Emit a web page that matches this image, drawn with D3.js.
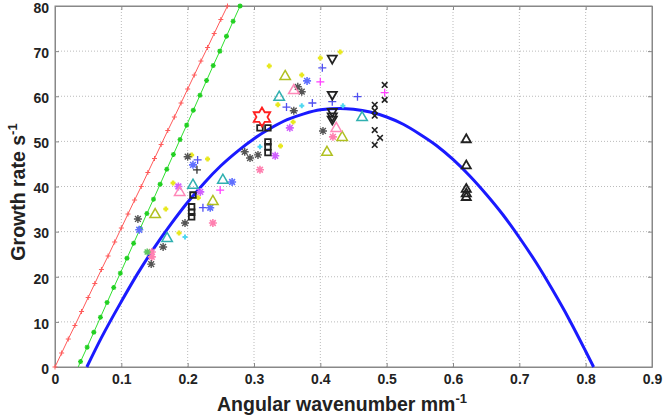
<!DOCTYPE html>
<html><head><meta charset="utf-8">
<script src="https://cdn.jsdelivr.net/npm/d3@7"></script>
<style>body{margin:0;background:#fff}svg{display:block}</style>
</head><body>
<svg id="c" width="667" height="417"></svg>
<script>
// ---- data ----
const xTicks = [0,0.1,0.2,0.3,0.4,0.5,0.6,0.7,0.8,0.9];
const yTicks = [0,10,20,30,40,50,60,70,80];
const xTickLabels = ["0","0.1","0.2","0.3","0.4","0.5","0.6","0.7","0.8","0.9"];
const yTickLabels = ["0","10","20","30","40","50","60","70","80"];

// fitted curve (blue)
const curveX = [0.048,0.07,0.10,0.125,0.15,0.175,0.20,0.225,0.25,0.275,0.30,0.325,0.35,0.375,0.40,0.43,0.45,0.475,0.50,0.525,0.55,0.575,0.60,0.625,0.65,0.675,0.70,0.725,0.75,0.775,0.80,0.812];
const curveY = [0,6.5,14.5,20.8,26.5,31.7,36.5,40.8,44.6,47.8,50.6,52.9,54.8,56.1,57.0,57.3,57.1,56.5,55.4,53.8,51.6,49.1,46.0,42.4,38.3,33.8,28.7,23.2,17.1,10.6,3.5,0];

// red line with + markers
const redX = [0,0.01,0.02,0.03,0.04,0.05,0.06,0.07,0.08,0.09,0.10,0.11,0.12,0.13,0.14,0.15,0.16,0.17,0.18,0.19,0.20,0.21,0.22,0.23,0.24,0.25,0.26];
const redY = [0,3.1,6.2,9.2,12.3,15.4,18.5,21.6,24.6,27.7,30.8,33.9,37.0,40.0,43.1,46.2,49.3,52.4,55.4,58.5,61.6,64.7,67.8,70.8,73.9,77.0,80.0];

// green line with * markers
const greenX = [0.035,0.0385,0.0485,0.0585,0.0685,0.0785,0.0885,0.0985,0.1085,0.1185,0.1285,0.1385,0.1485,0.1585,0.1685,0.1785,0.1885,0.1985,0.2085,0.2185,0.2285,0.2385,0.2485,0.2585,0.2685,0.279];
const greenY = [0,1.2,4.4,7.7,11.0,14.3,17.6,20.8,24.1,27.4,30.7,34.0,37.2,40.5,43.8,47.1,50.4,53.6,56.9,60.2,63.5,66.8,70.0,73.3,76.6,80.0];

// scatter series
const blackTriX = [0.62,0.62,0.62,0.62,0.62];
const blackTriY = [50.5,44.7,39.5,38.5,37.7];
const blackXX = [0.482,0.482,0.482,0.482,0.49,0.482,0.497,0.497];
const blackXY = [58.1,56.8,55.7,52.5,50.8,49.2,62.5,59.2];
const blackDownX = [0.418,0.418,0.418,0.418,0.418];
const blackDownY = [68.3,60.3,56.5,55.5,54.8];
const blackSqX = [0.309,0.321,0.321,0.321,0.321,0.208,0.206,0.206,0.206];
const blackSqY = [53,53,49.9,48.8,47.5,38.1,35.5,34.3,33.3];
const starX = [0.312];
const starY = [55.4];
const oliveTriX = [0.347,0.433,0.41,0.238,0.151];
const oliveTriY = [64.5,51,47.7,36.8,33.9];
const cyanTriX = [0.338,0.463,0.253,0.208,0.169];
const cyanTriY = [59.9,55.4,41.5,40.4,28.6];
const pinkTriX = [0.36,0.424,0.188];
const pinkTriY = [61.4,53,38.8];
const yellowX = [0.43,0.40,0.323,0.372,0.336,0.359,0.34,0.206,0.23,0.216,0.167,0.187,0.178];
const yellowY = [69.8,68.5,66.7,64.7,58.1,54.3,49,47,46.1,37.5,35,29.7,40.8];
const grayAstX = [0.366,0.372,0.36,0.404,0.306,0.294,0.286,0.20,0.196,0.163,0.145,0.125];
const grayAstY = [62.1,61,56.8,52.3,47,46.3,47.7,46.6,31.9,26.6,22.8,32.8];
const blueAstX = [0.38,0.267,0.208,0.234,0.127];
const blueAstY = [63.4,41,44.8,35.3,30.4];
const bluePlusX = [0.403,0.388,0.456,0.349,0.418,0.215,0.223];
const bluePlusY = [66.3,58.5,59.9,57.6,58.8,45.9,35.3];
const magPlusX = [0.40,0.249,0.497];
const magPlusY = [63.2,39.2,60.8];
const magAstX = [0.354,0.332,0.219,0.186];
const magAstY = [53,46.8,38.8,40];
const pinkAstX = [0.419,0.309,0.238,0.146,0.146];
const pinkAstY = [51,43.7,31.9,25.5,24.4];
const cyanSmX = [0.372,0.434,0.309,0.196];
const cyanSmY = [57.9,57.9,48.8,28.8];
const greenAstX = [0.139];
const greenAstY = [25.5];
const grayPlusX = [0.214];
const grayPlusY = [43.7];

// ---- drawing ----
const svg = d3.select("#c");
const L=55,R=652,T=6,B=367;
const FONT="Liberation Sans, Arial, Helvetica, sans-serif";
const x = d3.scaleLinear().domain([0,0.9]).range([L,R]);
const y = d3.scaleLinear().domain([0,80]).range([B,T]);

// grid
const g = svg.append("g");
g.selectAll(".gx").data(xTicks.slice(1,-1)).join("line")
  .attr("x1",d=>x(d)).attr("x2",d=>x(d)).attr("y1",T).attr("y2",B)
  .attr("stroke","#bbb").attr("stroke-width",1).attr("stroke-dasharray","1,2");
g.selectAll(".gy").data(yTicks.slice(1,-1)).join("line")
  .attr("y1",d=>y(d)).attr("y2",d=>y(d)).attr("x1",L).attr("x2",R)
  .attr("stroke","#bbb").attr("stroke-width",1).attr("stroke-dasharray","1,2");

// axes
const fmtX = (d,i)=>xTickLabels[i], fmtY=(d,i)=>yTickLabels[i];
svg.append("g").attr("transform",`translate(0,${B})`)
  .call(d3.axisBottom(x).tickValues(xTicks).tickFormat(fmtX).tickSizeInner(-4).tickSizeOuter(0).tickPadding(7));
const ay = svg.append("g").attr("transform",`translate(${L},0)`)
  .call(d3.axisLeft(y).tickValues(yTicks).tickFormat(fmtY).tickSizeInner(-4).tickSizeOuter(0).tickPadding(6));
ay.selectAll(".tick text").attr("dy","0.45em");
svg.append("g").attr("transform",`translate(0,${T})`)
  .call(d3.axisTop(x).tickValues(xTicks).tickFormat("").tickSizeInner(-4).tickSizeOuter(0));
svg.append("g").attr("transform",`translate(${R},0)`)
  .call(d3.axisRight(y).tickValues(yTicks).tickFormat("").tickSizeInner(-4).tickSizeOuter(0));
svg.selectAll(".domain").attr("stroke","#888");
svg.selectAll(".tick line").attr("stroke","#888");
svg.selectAll(".tick text").attr("font-family",FONT)
  .attr("font-weight","bold").attr("font-size","14px").attr("fill","#222");
svg.append("rect").attr("x",L).attr("y",T).attr("width",R-L).attr("height",B-T)
  .attr("fill","none").attr("stroke","#888").attr("stroke-width",1);

// titles
const xt = svg.append("text").attr("x",342).attr("y",411).attr("text-anchor","middle")
  .attr("font-family",FONT).attr("font-weight","bold")
  .attr("font-size","19.5px").attr("fill","#222");
xt.append("tspan").text("Angular wavenumber mm");
xt.append("tspan").attr("dy",-8).attr("font-size","13px").text("-1");
const yt = svg.append("text").attr("transform","translate(25,192) rotate(-90)").attr("text-anchor","middle")
  .attr("font-family",FONT).attr("font-weight","bold")
  .attr("font-size","19.5px").attr("fill","#222");
yt.append("tspan").text("Growth rate  s");
yt.append("tspan").attr("dy",-8).attr("font-size","13px").text("-1");

const plot = svg.append("g");
const line = d3.line().x(d=>x(d[0])).y(d=>y(d[1]));
const zip=(a,b)=>a.map((v,i)=>[v,b[i]]);

// red line
const red = zip(redX,redY);
plot.append("path").datum(red).attr("d",line).attr("fill","none").attr("stroke","#ff5a5a").attr("stroke-width",1);
plot.selectAll(".rm").data(red).join("path")
  .attr("d",d=>{const cx=x(d[0]),cy=y(d[1]);return `M${cx-2.5},${cy}H${cx+2.5}M${cx},${cy-2.5}V${cy+2.5}`;})
  .attr("stroke","#ff5a5a").attr("stroke-width",1);
// green line
const green = zip(greenX,greenY);
plot.append("path").datum(green).attr("d",line).attr("fill","none").attr("stroke","#30e030").attr("stroke-width",1);
plot.selectAll(".gm").data(green.slice(1)).join("path")
  .attr("d",d=>{const cx=x(d[0]),cy=y(d[1]),r=2.5,k=1.8;return `M${cx-r},${cy}H${cx+r}M${cx},${cy-r}V${cy+r}M${cx-k},${cy-k}L${cx+k},${cy+k}M${cx-k},${cy+k}L${cx+k},${cy-k}`;})
  .attr("stroke","#22d022").attr("stroke-width",1.3);

// marker generators
function tri(cx,cy,r,down){const s=down?-1:1;return `M${cx},${cy-s*r}L${cx+r*0.95},${cy+s*r*0.65}L${cx-r*0.95},${cy+s*r*0.65}Z`;}
function plus(cx,cy,r){return `M${cx-r},${cy}H${cx+r}M${cx},${cy-r}V${cy+r}`;}
function cross(cx,cy,r){return `M${cx-r},${cy-r}L${cx+r},${cy+r}M${cx-r},${cy+r}L${cx+r},${cy-r}`;}
function ast(cx,cy,r){const k=r*0.72;return plus(cx,cy,r)+cross(cx,cy,k);}
function sq(cx,cy,r){return `M${cx-r},${cy-r}H${cx+r}V${cy+r}H${cx-r}Z`;}
function hexa(cx,cy,r){let p="";for(let i=0;i<12;i++){const a=-Math.PI/2+i*Math.PI/6;const rr=i%2?r*0.58:r;p+=(i?"L":"M")+(cx+rr*Math.cos(a))+","+(cy+rr*Math.sin(a));}return p+"Z";}

function series(xs,ys,fn,size,color,width,fill){
  plot.append("g").selectAll("path").data(zip(xs,ys)).join("path")
    .attr("d",d=>fn(x(d[0]),y(d[1]),size))
    .attr("fill",fill||"none").attr("stroke",color).attr("stroke-width",width);
}

// curve
plot.append("path").datum(zip(curveX,curveY)).attr("d",d3.line().curve(d3.curveMonotoneX).x(d=>x(d[0])).y(d=>y(d[1])))
  .attr("fill","none").attr("stroke","#1a1aff").attr("stroke-width",3);

series(yellowX,yellowY,plus,2.5,"#e8e820",2.5);
series(cyanSmX,cyanSmY,plus,2.5,"#50d8f0",2);
series(pinkAstX,pinkAstY,ast,4,"#ff80b0",1.6);
series(magAstX,magAstY,ast,4,"#d060ff",1.6);
series(magPlusX,magPlusY,plus,4,"#ff40ff",1.3);
series(bluePlusX,bluePlusY,plus,4,"#5050f0",1.3);
series(blueAstX,blueAstY,ast,4,"#6070ff",1.6);
series(grayAstX,grayAstY,ast,4,"#555",1.4);
series(greenAstX,greenAstY,ast,3.5,"#60c860",1.5);
series(grayPlusX,grayPlusY,plus,4,"#333",1.3);
series(oliveTriX,oliveTriY,(a,b,r)=>tri(a,b,r,false),5.5,"#b0c020",1.5);
series(cyanTriX,cyanTriY,(a,b,r)=>tri(a,b,r,false),5.5,"#30b0b0",1.5);
series(pinkTriX,pinkTriY,(a,b,r)=>tri(a,b,r,false),5.5,"#ff88b8",1.5);
series(blackTriX,blackTriY,(a,b,r)=>tri(a,b,r,false),4.8,"#222",1.8);
series(blackDownX,blackDownY,(a,b,r)=>tri(a,b,r,true),4.8,"#222",1.8);
series(blackSqX,blackSqY,sq,2.8,"#222",1.8);
series(blackXX,blackXY,cross,2.8,"#222",1.6);
series(starX,starY,hexa,9.5,"#ff2020",1.8);
</script>
</body></html>
